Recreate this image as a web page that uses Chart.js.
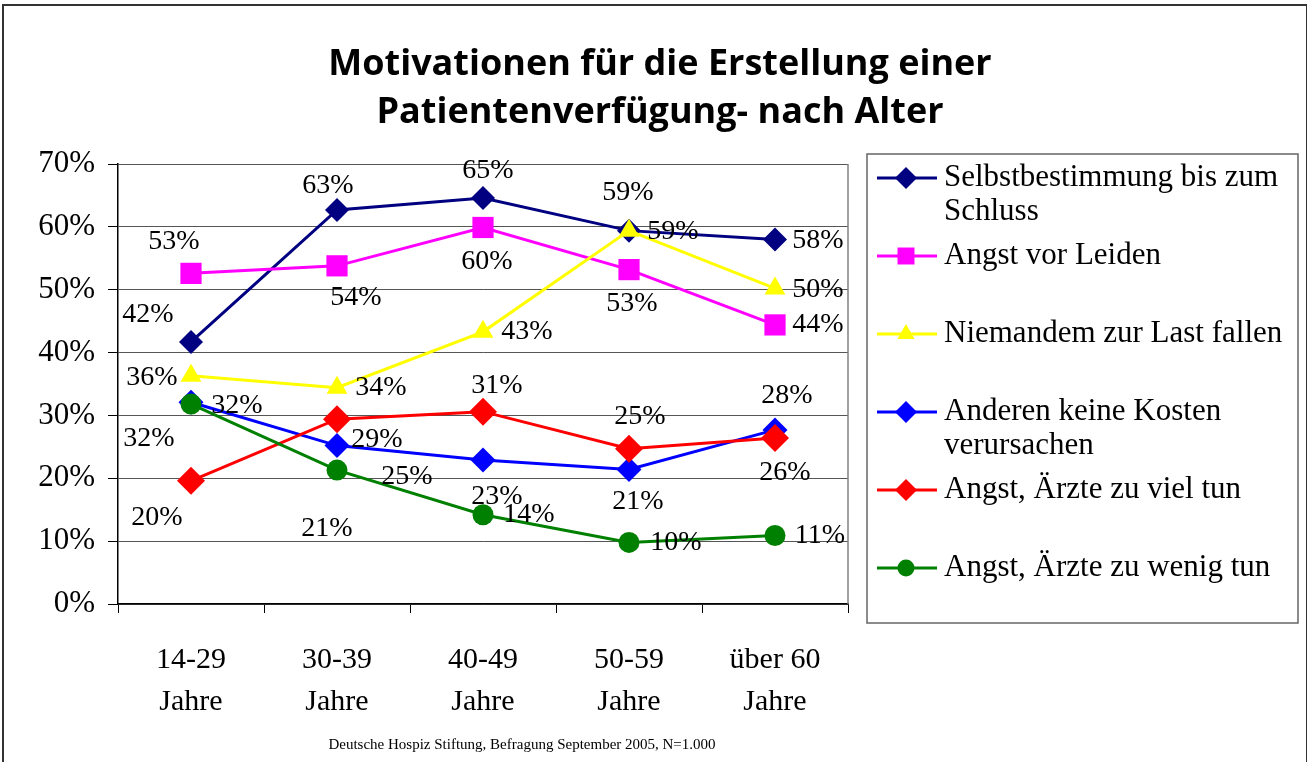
<!DOCTYPE html>
<html>
<head>
<meta charset="utf-8">
<script src="https://cdn.jsdelivr.net/npm/chart.js@4/dist/chart.umd.min.js"></script>
<style>
    html, body { margin: 0; padding: 0; background: #fff; }
    #wrap { position: relative; width: 1310px; height: 762px; overflow: hidden; }
    #frame { position: absolute; left: 2px; top: 4px; width: 1305px; height: 820px; border: 2px solid #333; box-sizing: border-box; }
    canvas { position: absolute; left: 0; top: 0; }
</style>
</head>
<body>
<div id="wrap">
    <div id="frame"></div>
    <canvas id="chart" width="1310" height="762"></canvas>
</div>
<script>
const categories = [['14-29', 'Jahre'], ['30-39', 'Jahre'], ['40-49', 'Jahre'], ['50-59', 'Jahre'], ['über 60', 'Jahre']];
const yTicks = [0, 10, 20, 30, 40, 50, 60, 70];
const seriesNames = [
    'Selbstbestimmung bis zum Schluss',
    'Angst vor Leiden',
    'Niemandem zur Last fallen',
    'Anderen keine Kosten verursachen',
    'Angst, Ärzte zu viel tun',
    'Angst, Ärzte zu wenig tun'
];
const selbstbestimmung = [41.7, 62.7, 64.6, 59.4, 58.0];
const angstLeiden = [52.6, 53.8, 59.9, 53.2, 44.4];
const niemandemLast = [36.3, 34.4, 43.3, 59.4, 50.2];
const keineKosten = [32.1, 25.2, 22.9, 21.4, 27.7];
const zuVielTun = [19.6, 29.4, 30.6, 24.7, 26.4];
const zuWenigTun = [31.8, 21.3, 14.2, 9.8, 10.9];

const titleLines = ['Motivationen für die Erstellung einer', 'Patientenverfügung- nach Alter'];
const sourceNote = 'Deutsche Hospiz Stiftung, Befragung September 2005, N=1.000';

// Stil je Reihe
const styles = [
    { color: '#000080', point: 'rectRot', r: 12, lr: 11 },
    { color: '#ff00ff', point: 'rect', r: 15, lr: 12 },
    { color: '#ffff00', point: 'triangle', r: 12, lr: 10 },
    { color: '#0000ff', point: 'rectRot', r: 12.5, lr: 11 },
    { color: '#ff0000', point: 'rectRot', r: 14, lr: 11 },
    { color: '#008000', point: 'circle', r: 10.5, lr: 8.5 }
];

// Lage der Datenbeschriftungen relativ zum Punkt (dx, dy)
const labelOffsets = [
    [[-43, -27], [-9, -24], [5, -27], [-1, -38], [43, 1]],
    [[-17, -32], [19, 32], [4, 34], [3, 34], [43, 0]],
    [[-39, 2], [44, 0], [44, 0], [44, 1], [43, 1]],
    [[-42, 36], [70, 31], [14, 37], [9, 32], [12, -34]],
    [[-34, 37], [40, 20], [14, -26], [11, -32], [10, 35]],
    [[46, 2], [-10, 59], [46, 0], [47, 0], [45, 0]]
];

const allSeries = [selbstbestimmung, angstLeiden, niemandemLast, keineKosten, zuVielTun, zuWenigTun];
const SERIF = '"Liberation Serif", "Times New Roman", serif';

const datasets = allSeries.map((values, i) => ({
    label: seriesNames[i],
    data: values,
    borderColor: styles[i].color,
    backgroundColor: styles[i].color,
    borderWidth: 3,
    pointStyle: styles[i].point,
    pointRadius: styles[i].r,
    pointHoverRadius: styles[i].r,
    pointBorderWidth: 0,
    pointBackgroundColor: styles[i].color,
    tension: 0,
    order: allSeries.length - i
}));

const dataLabels = {
    id: 'dataLabels',
    afterDatasetsDraw(chart) {
        const ctx = chart.ctx;
        ctx.save();
        ctx.font = '28px ' + SERIF;
        ctx.fillStyle = '#000';
        ctx.textAlign = 'center';
        ctx.textBaseline = 'middle';
        chart.data.datasets.forEach((ds, i) => {
            const meta = chart.getDatasetMeta(i);
            meta.data.forEach((pt, j) => {
                const off = labelOffsets[i][j];
                ctx.fillText(Math.round(ds.data[j]) + '%', pt.x + off[0], pt.y + off[1]);
            });
        });
        ctx.restore();
    }
};

function wrapText(ctx, text, maxW) {
    const words = text.split(' ');
    const lines = [];
    let cur = '';
    words.forEach(w => {
        const test = cur ? cur + ' ' + w : w;
        if (ctx.measureText(test).width > maxW && cur) {
            lines.push(cur);
            cur = w;
        } else {
            cur = test;
        }
    });
    lines.push(cur);
    return lines;
}

const decorations = {
    id: 'decorations',
    beforeDraw(chart) {
        const ctx = chart.ctx;
        ctx.save();
        ctx.fillStyle = '#fff';
        ctx.fillRect(4, 6, chart.width - 8, chart.height - 6);
        ctx.restore();
    },
    afterDraw(chart) {
        const ctx = chart.ctx;
        const area = chart.chartArea;
        ctx.save();

        // rechter Rahmen der Zeichenfläche
        ctx.strokeStyle = '#808080';
        ctx.lineWidth = 1.5;
        ctx.beginPath();
        ctx.moveTo(area.right, area.top);
        ctx.lineTo(area.right, area.bottom);
        ctx.stroke();

        // Titel
        ctx.fillStyle = '#000';
        ctx.textAlign = 'center';
        ctx.textBaseline = 'middle';
        ctx.font = 'bold 36px "Open Sans", sans-serif';
        ctx.fillText(titleLines[0], 660, 65);
        ctx.fillText(titleLines[1], 660, 113);

        // Quelle
        ctx.font = '15px ' + SERIF;
        ctx.fillText(sourceNote, 522, 745);

        // Legende
        ctx.strokeStyle = '#666';
        ctx.lineWidth = 1.5;
        ctx.strokeRect(867, 154, 431, 469);
        ctx.font = '31px ' + SERIF;
        ctx.textAlign = 'left';
        chart.data.datasets.forEach((ds, i) => {
            const y = 178 + i * 78;
            const st = styles[i];
            ctx.strokeStyle = st.color;
            ctx.lineWidth = 3;
            ctx.beginPath();
            ctx.moveTo(877, y);
            ctx.lineTo(937, y);
            ctx.stroke();
            ctx.fillStyle = st.color;
            Chart.helpers.drawPoint(ctx, { pointStyle: st.point, radius: st.lr, rotation: 0, borderWidth: 0 }, 906, y);
            ctx.fillStyle = '#000';
            wrapText(ctx, ds.label, 352).forEach((line, k) => {
                ctx.fillText(line, 944, y + k * 34);
            });
        });
        ctx.restore();
    }
};

new Chart(document.getElementById('chart'), {
    type: 'line',
    data: { labels: categories, datasets: datasets },
    options: {
        responsive: false,
        animation: false,
        layout: { padding: { left: 0, top: 164, right: 462, bottom: 0 } },
        plugins: {
            legend: { display: false },
            title: { display: false },
            tooltip: { enabled: false }
        },
        scales: {
            x: {
                offset: true,
                grid: { display: true, drawOnChartArea: false, offset: true, tickLength: 9, color: '#000' },
                border: { color: '#000', width: 1.5 },
                ticks: { color: '#000', font: { family: SERIF, size: 30, lineHeight: 1.4 }, padding: 26, maxRotation: 0 },
                afterFit(scale) { scale.height = 158; }
            },
            y: {
                min: 0,
                max: 70,
                afterBuildTicks(scale) { scale.ticks = yTicks.map(v => ({ value: v })); },
                grid: { color: '#555', lineWidth: 1, tickLength: 10, tickColor: '#000' },
                border: { color: '#000', width: 1.5 },
                ticks: { color: '#000', font: { family: SERIF, size: 31 }, padding: 13, callback: v => v + '%' },
                afterFit(scale) { scale.width = 118; }
            }
        }
    },
    plugins: [decorations, dataLabels]
});
</script>
</body>
</html>
